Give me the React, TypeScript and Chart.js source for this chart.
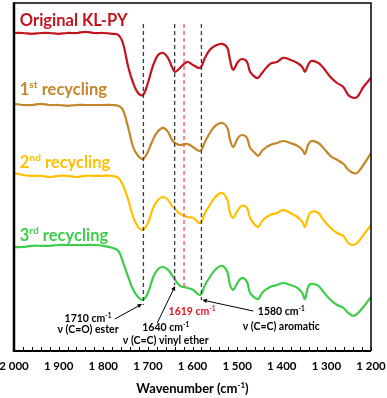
import React, { useEffect, useRef } from 'react';
import { Chart, registerables } from 'chart.js';

Chart.register(...registerables);

// ---- Data (arbitrary intensity units) ----
const wavenumbers = [
  2000, 1980, 1960, 1940, 1920, 1900, 1880, 1860, 1840, 1820, 1800, 1780,
  1766, 1756, 1744, 1733, 1722, 1711,
  1700, 1688, 1677, 1666, 1655, 1646, 1639, 1628, 1612, 1599, 1583,
  1572, 1561, 1549, 1534, 1522, 1516, 1509, 1498, 1489, 1478, 1471, 1460, 1453, 1442,
  1426, 1410, 1397, 1381, 1365, 1354, 1348, 1341, 1334, 1318, 1307, 1291, 1276, 1262, 1251, 1240, 1231, 1217, 1200,
];

const originalKLPY = [
  79.5, 79.5, 79.3, 79.5, 79.5, 79.3, 79.5, 79.5, 79.8, 79.5, 79.5, 79.3,
  79, 77, 71, 67, 64.5, 64,
  67, 71.5, 74, 74.5, 73.3, 71, 69.8, 70.8, 72.3, 71.5, 70.8,
  73.3, 75.3, 76.3, 76.8, 75.8, 72.8, 70.3, 72.3, 73, 72.3, 69.8, 68.5, 68.3, 69.8,
  71.8, 72.3, 73.3, 72.8, 72, 71, 69.8, 71.5, 72.5, 72, 70.8, 68.5, 67, 66, 64, 63.3, 63.5, 66, 68.3,
];

const recycling1 = [
  61.8, 61.5, 61.5, 61.8, 61.5, 61.5, 61.3, 61.5, 61.5, 61.5, 61.5, 61.5,
  61.3, 60.3, 55.8, 51, 48.8, 48,
  49.8, 53, 55, 55.8, 54.8, 52.8, 52, 51.5, 51.8, 51, 50,
  52.3, 54.5, 56.3, 57, 55.8, 52.8, 51, 53.3, 54, 53.3, 50.8, 49.5, 48.8, 50.3,
  51.5, 52, 52.5, 52, 51.3, 50.3, 49.3, 51.5, 52.5, 52, 50.8, 48.8, 47.8, 46.8, 45.3, 44.5, 44.5, 46.5, 49.5,
];

const recycling2 = [
  44.5, 44, 43.8, 43.8, 43.5, 43.8, 43.8, 43.5, 43.8, 43.8, 43.8, 43.8,
  43.3, 41.5, 37.8, 33.5, 31, 30.3,
  32, 35.8, 37.8, 38.5, 37.8, 36.3, 35.5, 34.3, 33.5, 33.3, 32,
  34.5, 36.5, 38.5, 39.5, 37.8, 34.5, 33.3, 35.3, 36.3, 35.8, 33.3, 31.5, 31, 32.8,
  34, 34.5, 35.3, 34.5, 33.5, 32.3, 31, 33.5, 34.8, 34.5, 32.8, 30.8, 29.5, 28.8, 27, 26.5, 27, 29, 31.5,
];

const recycling3 = [
  26, 26, 26.3, 26.3, 26.3, 26.5, 26.5, 26.5, 26.5, 26.5, 26.3, 25.8,
  25, 22.3, 18.5, 15.3, 13.5, 12.8,
  14.5, 18.5, 20.5, 21, 20.3, 19, 17.8, 16.3, 15.8, 15.3, 14,
  16.5, 18.5, 20.3, 21.3, 19.8, 16.5, 15.3, 17.3, 18.3, 17.3, 14.5, 13.3, 13, 14.8,
  16, 16.5, 17, 16.5, 15.8, 14.5, 13, 16, 16.8, 16.3, 14.8, 12.8, 11.5, 10.8, 9.5, 8.8, 9.3, 11, 13.5,
];

const seriesValues = [originalKLPY, recycling1, recycling2, recycling3];
const seriesColors = ['#c3141e', '#c4862a', '#ffc000', '#3ecd4b'];
const seriesNames = ['Original KL-PY', '1st recycling', '2nd recycling', '3rd recycling'];
// rich-text parts of series labels: [text, isSuperscript]
const seriesLabelParts: [string, boolean][][] = [
  [['Original KL-PY', false]],
  [['1', false], ['st', true], [' recycling', false]],
  [['2', false], ['nd', true], [' recycling', false]],
  [['3', false], ['rd', true], [' recycling', false]],
];
const seriesLabelWavenumber = 1987;
const seriesLabelLevels = [82.5, 65.25, 47, 28.75];

// Marker band lines (dashed verticals)
const bandWavenumbers = [1710, 1640, 1619, 1580];
const bandTop = 81.75;
const bandBottoms = [11.5, 16.5, 15.25, 12.75];
const bandColors = ['#3a3a3a', '#3a3a3a', '#ff4848', '#3a3a3a'];

// Annotations
const annotationWavenumbers = [1834, 1660, 1601, 1401];
const annotationLevels = [[8, 5.25], [5.75, 2.5], [9.75], [9.75, 6]];
const annotationColors = ['#000', '#000', '#e8131b', '#000'];
const annotationLines: [string, boolean][][][] = [
  [[['1710 cm', false], ['-1', true]], [['ν (C=O) ester', false]]],
  [[['1640 cm', false], ['-1', true]], [['ν (C=C) vinyl ether', false]]],
  [[['1619 cm', false], ['-1', true]]],
  [[['1580 cm', false], ['-1', true]], [['ν (C=C) aromatic', false]]],
];
const arrowFrom = [[1774, 8], [1679, 7], [1464, 10]];
const arrowTo = [[1713, 11.75], [1639, 16.25], [1578, 12.75]];

const xMin = 1200;
const xMax = 2000;
const xStep = 20;
const xLabelStep = 100;
const yMin = 0;
const yMax = 87;

const FONT = 'Lato, "Open Sans", sans-serif';

function formatWavenumber(n: number): string {
  const s = String(n);
  return s.slice(0, s.length - 3) + ' ' + s.slice(-3);
}

function drawRich(
  ctx: CanvasRenderingContext2D,
  parts: [string, boolean][],
  x: number,
  y: number,
  size: number,
  color: string,
  align: 'left' | 'center'
) {
  const supSize = size * 0.62;
  let total = 0;
  const widths: number[] = [];
  for (const [t, sup] of parts) {
    ctx.font = `bold ${sup ? supSize : size}px ${FONT}`;
    const w = ctx.measureText(t).width;
    widths.push(w);
    total += w;
  }
  let cx = align === 'center' ? x - total / 2 : x;
  ctx.fillStyle = color;
  ctx.textBaseline = 'middle';
  ctx.textAlign = 'left';
  parts.forEach(([t, sup], i) => {
    ctx.font = `bold ${sup ? supSize : size}px ${FONT}`;
    ctx.fillText(t, cx, sup ? y - size * 0.3 : y);
    cx += widths[i];
  });
}

const decorPlugin = {
  id: 'decor',
  afterDatasetsDraw(chart: any) {
    const { ctx } = chart;
    const xs = chart.scales.x;
    const ys = chart.scales.y;
    ctx.save();
    // series labels
    seriesLabelParts.forEach((parts, i) => {
      drawRich(ctx, parts, xs.getPixelForValue(seriesLabelWavenumber), ys.getPixelForValue(seriesLabelLevels[i]), 16.5, seriesColors[i], 'left');
    });
    // annotations
    annotationLines.forEach((lines, i) => {
      lines.forEach((parts, j) => {
        drawRich(ctx, parts, xs.getPixelForValue(annotationWavenumbers[i]), ys.getPixelForValue(annotationLevels[i][j]), 10.5, annotationColors[i], 'center');
      });
    });
    // arrows
    ctx.strokeStyle = '#000';
    ctx.fillStyle = '#000';
    ctx.lineWidth = 1;
    arrowFrom.forEach((from, i) => {
      const x1 = xs.getPixelForValue(from[0]);
      const y1 = ys.getPixelForValue(from[1]);
      const x2 = xs.getPixelForValue(arrowTo[i][0]);
      const y2 = ys.getPixelForValue(arrowTo[i][1]);
      const ang = Math.atan2(y2 - y1, x2 - x1);
      const head = 5;
      ctx.beginPath();
      ctx.moveTo(x1, y1);
      ctx.lineTo(x2 - Math.cos(ang) * head * 0.8, y2 - Math.sin(ang) * head * 0.8);
      ctx.stroke();
      ctx.beginPath();
      ctx.moveTo(x2, y2);
      ctx.lineTo(x2 - head * Math.cos(ang - 0.45), y2 - head * Math.sin(ang - 0.45));
      ctx.lineTo(x2 - head * Math.cos(ang + 0.45), y2 - head * Math.sin(ang + 0.45));
      ctx.closePath();
      ctx.fill();
    });
    ctx.restore();
  },
  afterDraw(chart: any) {
    const { ctx, chartArea } = chart;
    const { left, right, top, bottom } = chartArea;
    const xs = chart.scales.x;
    ctx.save();
    ctx.strokeStyle = '#000';
    ctx.lineWidth = 1.5;
    ctx.beginPath();
    ctx.moveTo(left, top);
    ctx.lineTo(right, top);
    ctx.lineTo(right, bottom);
    ctx.stroke();
    ctx.lineWidth = 2;
    ctx.beginPath();
    ctx.moveTo(left - 1, bottom);
    ctx.lineTo(right, bottom);
    ctx.stroke();
    ctx.lineWidth = 2.5;
    ctx.beginPath();
    ctx.moveTo(left, top - 0.75);
    ctx.lineTo(left, bottom + 1);
    ctx.stroke();
    // inward ticks and tick labels
    ctx.lineWidth = 1;
    ctx.fillStyle = '#000';
    ctx.textAlign = 'center';
    ctx.textBaseline = 'middle';
    ctx.font = `bold 11.5px ${FONT}`;
    xs.ticks.forEach((t: any) => {
      const px = Math.round(xs.getPixelForValue(t.value)) + 0.5;
      ctx.beginPath();
      ctx.moveTo(px, bottom);
      ctx.lineTo(px, bottom - 4);
      ctx.stroke();
      if (t.value % xLabelStep === 0) {
        ctx.fillText(formatWavenumber(t.value), xs.getPixelForValue(t.value), bottom + 15);
      }
    });
    // axis title
    const cx = (left + right) / 2;
    drawRich(ctx, [['Wavenumber (cm', false], ['-1', true], [')', false]], cx, bottom + 38, 13, '#000', 'center');
    ctx.restore();
  },
};

export default function App() {
  const canvasRef = useRef<HTMLCanvasElement | null>(null);

  useEffect(() => {
    if (!canvasRef.current) return;
    const spectra = seriesValues.map((vals, i) => ({
      label: seriesNames[i],
      data: wavenumbers.map((w, k) => ({ x: w, y: vals[k] })),
      borderColor: seriesColors[i],
      borderWidth: 2.2,
      pointRadius: 0,
      tension: 0.35,
      fill: false,
    }));
    const bands = bandWavenumbers.map((w, i) => ({
      label: `${w}`,
      data: [
        { x: w, y: bandTop },
        { x: w, y: bandBottoms[i] },
      ],
      borderColor: bandColors[i],
      borderWidth: 1.3,
      borderDash: [4, 3],
      pointRadius: 0,
      fill: false,
    }));

    const chart = new Chart(canvasRef.current, {
      type: 'line',
      data: { datasets: [...bands, ...spectra] as any },
      options: {
        animation: false,
        responsive: false,
        maintainAspectRatio: false,
        layout: { padding: { left: 14, right: 16, top: 3, bottom: 47 } },
        plugins: {
          legend: { display: false },
          tooltip: { enabled: false },
          title: { display: false },
        },
        scales: {
          x: {
            type: 'linear',
            reverse: true,
            min: xMin,
            max: xMax,
            border: { display: false },
            grid: { display: false, drawTicks: false },
            ticks: {
              display: false,
              stepSize: xStep,
              autoSkip: false,
              maxRotation: 0,
            },
          },
          y: {
            display: false,
            min: yMin,
            max: yMax,
          },
        },
      },
      plugins: [decorPlugin],
    });
    return () => chart.destroy();
  }, []);

  return (
    <div style={{ position: 'fixed', left: 0, top: 0, width: 387, height: 398, background: '#fff' }}>
      <canvas ref={canvasRef} width={387} height={398} style={{ width: 387, height: 398 }} />
    </div>
  );
}
